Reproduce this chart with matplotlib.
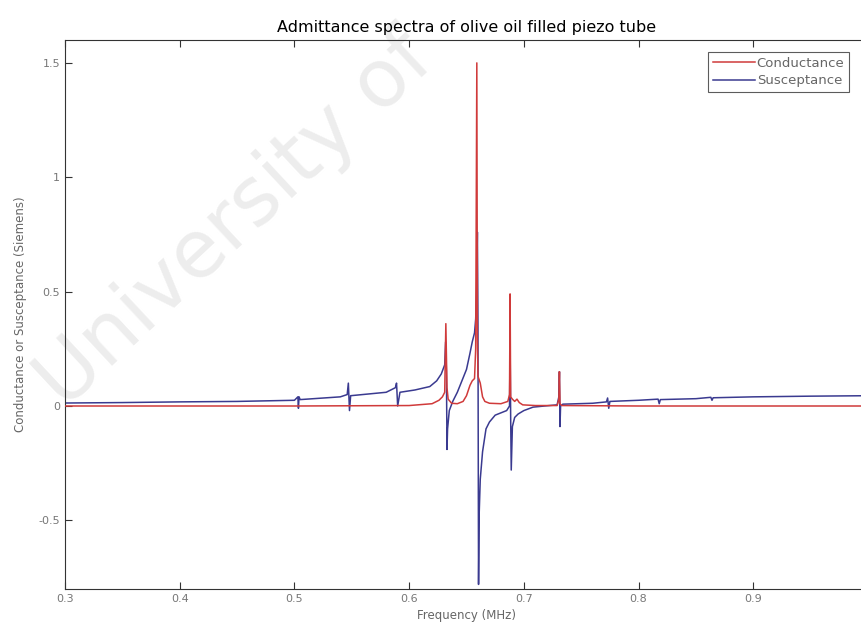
import matplotlib
matplotlib.use("Agg")
import matplotlib.pyplot as plt

# Conductance (red) — frequency in MHz, value in Siemens
cond_freq = [0.300, 0.400, 0.500, 0.600, 0.620, 0.626, 0.629, 0.631, 0.632, 0.633, 0.634,
             0.637, 0.642, 0.647, 0.650, 0.653, 0.655, 0.657, 0.658, 0.6590, 0.6595,
             0.660, 0.662, 0.664, 0.666, 0.670, 0.680, 0.686, 0.6875, 0.688, 0.6885,
             0.690, 0.692, 0.694, 0.696, 0.699, 0.710, 0.729, 0.7305, 0.731, 0.7315,
             0.733, 0.800, 0.900, 1.000]
cond_vals = [0.000, 0.000, 0.000, 0.002, 0.010, 0.025, 0.040, 0.060, 0.360, 0.080, 0.030,
             0.012, 0.010, 0.020, 0.045, 0.090, 0.110, 0.120, 0.250, 1.500, 0.300,
             0.130, 0.100, 0.040, 0.020, 0.012, 0.010, 0.020, 0.050, 0.490, 0.040,
             0.030, 0.020, 0.030, 0.015, 0.005, 0.002, 0.002, 0.030, 0.150, 0.010,
             0.002, 0.000, 0.000, 0.000]

# Susceptance (blue)
susc_freq = [0.300, 0.350, 0.400, 0.450, 0.500, 0.503, 0.5035, 0.504, 0.505, 0.540,
             0.546, 0.547, 0.548, 0.549, 0.580, 0.588, 0.589, 0.590, 0.592, 0.605,
             0.618, 0.624, 0.628, 0.631, 0.6318, 0.6325, 0.633, 0.6335, 0.635, 0.638,
             0.642, 0.646, 0.650, 0.653, 0.655, 0.657, 0.658, 0.6588, 0.6595, 0.6600,
             0.6605, 0.661, 0.662, 0.664, 0.667, 0.670, 0.675, 0.680, 0.685, 0.6875,
             0.6880, 0.6885, 0.689, 0.690, 0.692, 0.695, 0.700, 0.708, 0.718, 0.729,
             0.7305, 0.731, 0.7315, 0.732, 0.734, 0.760, 0.772, 0.773, 0.774, 0.775,
             0.800, 0.817, 0.818, 0.819, 0.850, 0.863, 0.864, 0.865, 0.900, 0.950, 1.000]
susc_vals = [0.013, 0.015, 0.018, 0.020, 0.025, 0.040, -0.010, 0.040, 0.028, 0.040,
             0.050, 0.100, -0.020, 0.045, 0.060, 0.080, 0.100, 0.000, 0.060, 0.070,
             0.085, 0.110, 0.140, 0.180, 0.280, 0.150, -0.190, -0.100, -0.020, 0.020,
             0.060, 0.110, 0.160, 0.230, 0.280, 0.320, 0.380, 0.500, 0.760, 0.350,
             -0.780, -0.480, -0.320, -0.200, -0.100, -0.070, -0.040, -0.030, -0.020, 0.000,
             0.270, -0.050, -0.280, -0.090, -0.050, -0.035, -0.020, -0.005, 0.000, 0.005,
             0.040, 0.150, -0.090, 0.000, 0.008, 0.012, 0.018, 0.035, -0.010, 0.020,
             0.025, 0.030, 0.010, 0.028, 0.032, 0.038, 0.025, 0.036, 0.040, 0.043, 0.045]

x_ticks = [0.3, 0.4, 0.5, 0.6, 0.7, 0.8, 0.9, 1.0]
x_tick_labels = ["0.3", "0.4", "0.5", "0.6", "0.7", "0.8", "0.9", ""]
y_ticks = [-0.5, 0, 0.5, 1, 1.5]
y_tick_labels = ["-0.5", "0", "0.5", "1", "1.5"]

fig = plt.figure(figsize=(8.61, 6.31), dpi=100)
ax = fig.add_axes([65 / 861, 1 - 589 / 631, (868 - 65) / 861, (589 - 40) / 631])
ax.patch.set_alpha(0)

# faint watermark, behind the axes
fig.text(0.075, 0.35, "University of", fontsize=58, color="#ededed",
         rotation=43, rotation_mode="anchor", ha="left", va="baseline", zorder=-1)

ax.plot(cond_freq, cond_vals, color="#d03a3a", lw=1.1, label="Conductance", zorder=3)
ax.plot(susc_freq, susc_vals, color="#3a3a90", lw=1.1, label="Susceptance", zorder=2)

ax.set_xlim(0.3, 1.0)
ax.set_ylim(-0.8, 1.6)
ax.set_xticks(x_ticks)
ax.set_xticklabels(x_tick_labels)
ax.set_yticks(y_ticks)
ax.set_yticklabels(y_tick_labels)
ax.tick_params(direction="in", length=5, labelsize=8, labelcolor="#777777",
               top=True, right=True, color="#333333")
for s in ax.spines.values():
    s.set_color("#333333")
    s.set_linewidth(0.8)

ax.set_title("Admittance spectra of olive oil filled piezo tube", fontsize=11.5, pad=6)
ax.set_xlabel("Frequency (MHz)", fontsize=8.5, color="#666666", labelpad=4)
ax.set_ylabel("Conductance or Susceptance (Siemens)", fontsize=8.5, color="#666666",
              labelpad=8)

leg = ax.legend(loc="upper right", bbox_to_anchor=((849 - 65) / 803, 0.978),
                fontsize=9.5, frameon=True, fancybox=False, edgecolor="#333333",
                handlelength=3.2, handletextpad=0.1, borderpad=0.35, labelspacing=0.35,
                borderaxespad=0)
for t in leg.get_texts():
    t.set_color("#666666")
leg.get_frame().set_linewidth(0.8)

fig.savefig("out.png", dpi=100)
